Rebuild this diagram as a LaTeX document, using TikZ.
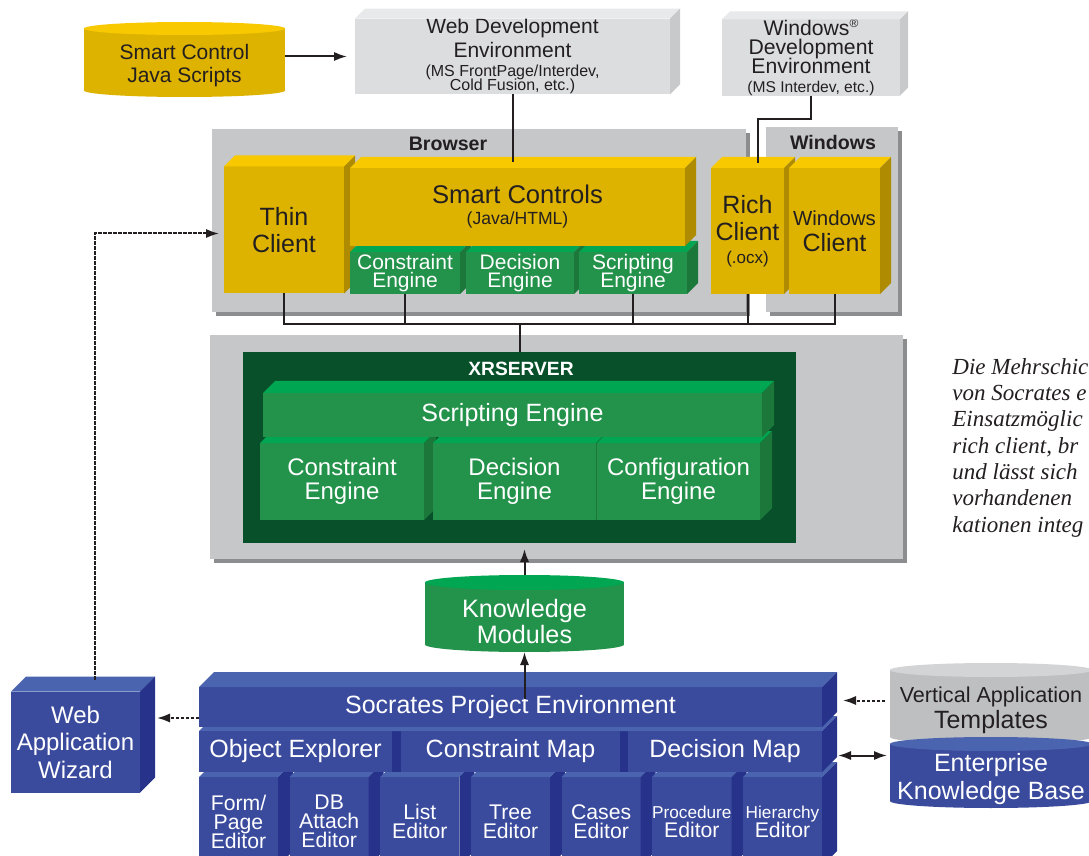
\documentclass[tikz,border=0pt]{standalone}
\usepackage{fontspec}
\setmainfont{Liberation Sans}
\newfontfamily\capfont{Liberation Serif}
\usetikzlibrary{arrows,arrows.meta,positioning,shadows,backgrounds}

\definecolor{ink}{HTML}{231F20}
\definecolor{yfront}{HTML}{DDB300}
\definecolor{ytop}{HTML}{F9C900}
\definecolor{yside}{HTML}{AE8B00}
\definecolor{lfront}{HTML}{DCDDDF}
\definecolor{ltop}{HTML}{E8E9EA}
\definecolor{lside}{HTML}{C8C9CB}
\definecolor{frgray}{HTML}{C6C7C9}
\definecolor{shgray}{HTML}{8C8D8F}
\definecolor{gfront}{HTML}{23924A}
\definecolor{gtop}{HTML}{00A651}
\definecolor{gside}{HTML}{1B773A}
\definecolor{xdark}{HTML}{07502A}
\definecolor{bfront}{HTML}{3A4A9D}
\definecolor{btop}{HTML}{4B64B0}
\definecolor{bside}{HTML}{27338A}
\definecolor{cgbody}{HTML}{BEBFC1}
\definecolor{cgtop}{HTML}{D3D4D6}

\newcommand\fs[2]{\fontsize{#1}{#2}\selectfont\lineskiplimit=-4pt\relax}
% top and right faces of a box node
\newcommand\boxfaces[4]{%
  \fill[#2] (#1.north west) -- ++(#4,-#4) -- ([shift={(#4,-#4)}]#1.north east) -- (#1.north east) -- cycle;
  \fill[#3] (#1.north east) -- ++(#4,-#4) -- ([shift={(#4,-#4)}]#1.south east) -- (#1.south east) -- cycle;}
% body and ends of a cylinder node, behind its text
\newcommand\cylends[5]{%
  \begin{scope}[on background layer]
    \fill[#2] ([yshift=#5*0.5pt]#1.north west) rectangle ([yshift=#5*0.5pt]#1.south east);
    \fill[#2] ([yshift=#5*0.5pt]#1.south) ellipse [x radius=#4, y radius=#5];
    \fill[#3] ([yshift=#5*0.5pt]#1.north) ellipse [x radius=#4, y radius=#5];
  \end{scope}}

\begin{document}
\begin{tikzpicture}[x=0.5pt,y=-0.5pt,
    box/.style={rectangle,inner sep=0pt,outer sep=0pt,align=center},
    sz/.style 2 args={minimum width=#1*0.5pt,minimum height=#2*0.5pt},
    panel/.style={box,fill=frgray,drop shadow={shadow xshift=2pt,shadow yshift=-2pt,opacity=1,fill=shgray}},
    yellowbox/.style={box,fill=yfront,text=ink},
    greybox/.style={box,fill=lfront,text=ink},
    greenbox/.style={box,fill=gfront,text=white},
    bluebox/.style={box,fill=bfront,text=white},
    cyl/.style={box},
    heading/.style={font=\bfseries\fs{9.8}{11},text=ink},
    wire/.style={draw=ink,line width=1pt},
    arr/.style={wire,-{Latex[length=6.5pt,width=4.6pt]}},
    dlink/.style={arr,dash pattern=on 1.6pt off 0.9pt}]

  \path[use as bounding box] (0,0) rectangle (1089,856);
  \begin{scope}[on background layer]
    \fill[white] (0,0) rectangle (1089,856);
  \end{scope}

  % development tools
  \node[cyl,sz={201}{62},text=ink,font=\fs{10.5}{11.5}] (scjs) at (184.5,66) {Smart Control\\Java Scripts};
  \cylends{scjs}{yfront}{ytop}{100.5}{6.5}
  \node[greybox,sz={315}{75},font=\fs{10.5}{12}] (webdev) at (512.5,56.5) {Web Development\\Environment\\[-2.5pt]\fs{8}{7}(MS FrontPage/Interdev,\\[-5pt]\fs{8}{7}Cold Fusion, etc.)};
  \boxfaces{webdev}{ltop}{lside}{10}
  \node[greybox,sz={178}{75},font=\fs{10.6}{9.5}] (windev) at (811,57.5) {Windows\raisebox{.7ex}{\fs{6}{6}®}\\Development\\Environment\\\fs{7.8}{9.5}(MS Interdev, etc.)};
  \boxfaces{windev}{ltop}{lside}{8}

  % browser and windows
  \node[panel,sz={534}{183}] (browser) at (479,220.5) {};
  \node[heading] (brlabel) at (448,144) {Browser};
  \node[panel,sz={132}{185}] (winframe) at (832,219.5) {};
  \node[heading] (winlabel) at (833,142) {Windows};

  \node[yellowbox,sz={120}{127},font=\fs{12.5}{13.5}] (thin) at (284,230) {Thin\\Client};
  \boxfaces{thin}{ytop}{yside}{11}
  \node[greenbox,sz={110}{42},font=\fs{10.5}{9}] (con1) at (405,273) {Constraint\\Engine};
  \boxfaces{con1}{gtop}{gside}{11}
  \node[greenbox,sz={108}{42},font=\fs{10.5}{9}] (dec1) at (520,273) {Decision\\Engine};
  \boxfaces{dec1}{gtop}{gside}{11}
  \node[greenbox,sz={108}{42},font=\fs{10.5}{9}] (scr1) at (633,273) {Scripting\\Engine};
  \boxfaces{scr1}{gtop}{gside}{11}
  \node[yellowbox,sz={335}{78},font=\fs{12.8}{10.5}] (smart) at (517.5,207) {Smart Controls\\\fs{8.8}{10.5}(Java/HTML)};
  \boxfaces{smart}{ytop}{yside}{11}
  \node[yellowbox,sz={73}{126},font=\fs{12.5}{13.5}] (rich) at (747.5,231) {Rich\\Client\\[-2pt]\fs{8.5}{11.5}(.ocx)};
  \boxfaces{rich}{ytop}{yside}{11}
  \node[yellowbox,sz={91}{126},font=\fs{12.5}{13}] (winc) at (834.5,231) {\fs{10.2}{13}Windows\\Client};
  \boxfaces{winc}{ytop}{yside}{11}

  % server
  \node[panel,sz={693}{224}] (server) at (556.5,447) {};
  \node[box,fill=xdark,sz={553}{191}] (xrs) at (519.5,447.5) {};
  \node[font=\bfseries\fs{9.6}{11},text=white] (xrlabel) at (521,369) {XRSERVER};
  \node[greenbox,sz={164}{77},font=\fs{12}{12}] (con2) at (342,481.5) {Constraint\\Engine};
  \boxfaces{con2}{gtop}{gside}{12}
  \node[greenbox,sz={163}{77},font=\fs{12}{12}] (dec2) at (514.5,481.5) {Decision\\Engine};
  \boxfaces{dec2}{gtop}{gside}{12}
  \node[greenbox,sz={163}{77},font=\fs{12}{12}] (cfg2) at (678.5,481.5) {Configuration\\Engine};
  \boxfaces{cfg2}{gtop}{gside}{12}
  \node[greenbox,sz={499}{44},font=\fs{12.5}{14}] (scr2) at (512.5,415) {Scripting Engine};
  \boxfaces{scr2}{gtop}{gside}{12}

  \node[cyl,sz={199}{62},text=white,font=\fs{12.6}{13}] (km) at (524.5,621) {Knowledge\\Modules};
  \cylends{km}{gfront}{gtop}{99.5}{7.5}

  % project environment
  \foreach \lbl [count=\i from 0] in {{Form/\\Page\\Editor},{DB\\Attach\\Editor},{List\\Editor},{Tree\\Editor},{Cases\\Editor},{\fs{8.6}{9.5}Procedure\\Editor},{\fs{8.6}{9.5}Hierarchy\\Editor}}{
    \node[bluebox,sz={79}{89},font=\fs{10.6}{9.5}] (ed\i) at ({238.5+90.67*\i},821.5) {\lbl};
    \boxfaces{ed\i}{btop}{bside}{15}
  }
  \node[bluebox,fill=bside,sz={623}{41}] (maprow) at (510.5,751.5) {};
  \boxfaces{maprow}{btop}{bside}{15}
  \node[bluebox,sz={193}{41},font=\fs{12.5}{14}] (objexp) at (295.5,751.5) {Object Explorer};
  \node[bluebox,sz={219}{41},font=\fs{12.5}{14}] (cmap) at (510.5,751.5) {Constraint Map};
  \node[bluebox,sz={194}{41},font=\fs{12.5}{14}] (dmap) at (725,751.5) {Decision Map};
  \node[bluebox,sz={623}{40},font=\fs{12.5}{14}] (spe) at (510.5,707) {Socrates Project Environment};
  \boxfaces{spe}{btop}{bside}{15}
  \node[bluebox,sz={129}{101},font=\fs{12}{13.75}] (wiz) at (75.5,742) {Web\\Application\\Wizard};
  \boxfaces{wiz}{btop}{bside}{15}

  \node[cyl,sz={202}{67},text=ink,font=\fs{12.5}{13}] (vat) at (991,710.5) {\fs{10.8}{13}Vertical Application\\Templates};
  \cylends{vat}{cgbody}{cgtop}{101}{7}
  \node[cyl,sz={202}{57},text=white,font=\fs{12.5}{14}] (ekb) at (991,779.5) {Enterprise\\Knowledge Base};
  \cylends{ekb}{bfront}{btop}{101}{7}

  \node[anchor=north west,inner sep=0pt,align=left,text=ink,font=\capfont\itshape\fs{11.5}{13.15}] (note) at (952,358) {Die Mehrschic\\von Socrates e\\Einsatzmöglic\\rich client, br\\und lässt sich\\vorhandenen\\kationen integ};

  % connections
  \draw[arr,shorten >=4pt] (scjs.east |- webdev.west) -- (webdev.west);
  \draw[wire,shorten >=3pt] (webdev.south) -- (webdev.south |- smart.north);
  \draw[wire] (windev.south) -- ++(0,23) -| ([xshift=5pt,yshift=2.5pt]rich.north);
  \coordinate (bus) at ([yshift=14pt]xrs.north);
  \draw[wire] (thin.south) |- (bus) -| (winc.south);
  \foreach \n in {con1,scr1,rich}
    \draw[wire] (\n.south) -- (\n.south |- bus);
  \draw[wire] (bus) -- (xrs.north);
  \draw[arr,shorten >=-5pt] ([yshift=7.5pt]km.north) -- (km.north |- server.south);
  \draw[arr,shorten <=-6pt] (km.south |- spe.north) -- (km.south);
  \draw[dlink] ([xshift=9.5pt,yshift=6pt]wiz.north) |- ([xshift=-2.5pt,yshift=-1.75pt]thin.west);
  \coordinate (spw) at ([yshift=-5.5pt]spe.west);
  \draw[dlink,shorten >=8.5pt] (spw) -- (wiz.east |- spw);
  \coordinate (vatw) at ([xshift=-2.5pt,yshift=5pt]vat.west);
  \draw[dlink,shorten >=10.5pt] (vatw) -- (spe.east |- vatw);
  \coordinate (ekbw) at ([xshift=-1.5pt,yshift=12pt]ekb.west);
  \draw[wire,{Latex[length=6.5pt,width=4.6pt]}-{Latex[length=6.5pt,width=4.6pt]},shorten >=8pt] (ekbw) -- (maprow.east |- ekbw);
\end{tikzpicture}
\end{document}
